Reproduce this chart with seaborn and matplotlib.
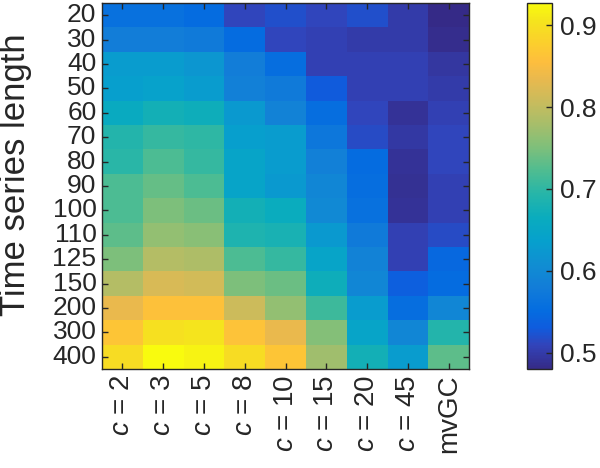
import pandas as pd
import seaborn as sns
import matplotlib.pyplot as plt
from matplotlib.colors import LinearSegmentedColormap

# Row labels (time series length) and column labels (methods)
lengths = [20, 30, 40, 50, 60, 70, 80, 90, 100, 110, 125, 150, 200, 300, 400]
methods = ['$c$ = 2', '$c$ = 3', '$c$ = 5', '$c$ = 8', '$c$ = 10',
           '$c$ = 15', '$c$ = 20', '$c$ = 45', 'mvGC']

# Values per method, one per time series length (top to bottom)
c2 = [0.56, 0.58, 0.63, 0.635, 0.66, 0.69, 0.695, 0.72, 0.72, 0.73, 0.75, 0.79, 0.835, 0.865, 0.895]
c3 = [0.56, 0.58, 0.63, 0.64, 0.675, 0.705, 0.72, 0.735, 0.75, 0.765, 0.79, 0.82, 0.86, 0.90, 0.927]
c5 = [0.55, 0.575, 0.62, 0.63, 0.67, 0.70, 0.705, 0.72, 0.74, 0.758, 0.785, 0.815, 0.86, 0.905, 0.92]
c8 = [0.51, 0.55, 0.58, 0.585, 0.625, 0.635, 0.645, 0.645, 0.675, 0.685, 0.72, 0.75, 0.81, 0.862, 0.895]
c10 = [0.52, 0.51, 0.555, 0.575, 0.59, 0.63, 0.63, 0.625, 0.665, 0.68, 0.705, 0.74, 0.765, 0.835, 0.865]
c15 = [0.51, 0.505, 0.505, 0.53, 0.555, 0.57, 0.585, 0.595, 0.60, 0.625, 0.645, 0.67, 0.71, 0.755, 0.775]
c20 = [0.52, 0.50, 0.505, 0.505, 0.51, 0.515, 0.55, 0.555, 0.56, 0.575, 0.59, 0.595, 0.63, 0.645, 0.675]
c45 = [0.50, 0.50, 0.505, 0.505, 0.49, 0.497, 0.49, 0.487, 0.49, 0.505, 0.505, 0.535, 0.555, 0.595, 0.63]
mvgc = [0.48, 0.485, 0.495, 0.50, 0.505, 0.51, 0.51, 0.505, 0.505, 0.515, 0.545, 0.55, 0.595, 0.69, 0.73]

df = pd.DataFrame(dict(zip(methods, [c2, c3, c5, c8, c10, c15, c20, c45, mvgc])), index=lengths)

# parula-like colormap
parula_pts = [
    (0, (0.2081, 0.1663, 0.5292)), (4, (0.1959, 0.2645, 0.7279)),
    (7, (0.0591, 0.3598, 0.8683)), (10, (0.0165, 0.4266, 0.8786)),
    (14, (0.0723, 0.4887, 0.8467)), (18, (0.0641, 0.5570, 0.8240)),
    (22, (0.0239, 0.6287, 0.8038)), (26, (0.0384, 0.6743, 0.7436)),
    (30, (0.1453, 0.7098, 0.6646)), (34, (0.3022, 0.7376, 0.5712)),
    (38, (0.4871, 0.7491, 0.4840)), (42, (0.6473, 0.7456, 0.4188)),
    (46, (0.7858, 0.7356, 0.3633)), (50, (0.9139, 0.7258, 0.3063)),
    (53, (0.9938, 0.7455, 0.2403)), (56, (0.9880, 0.8066, 0.1794)),
    (60, (0.9589, 0.8949, 0.1132)), (63, (0.9763, 0.9831, 0.0538)),
]
parula = LinearSegmentedColormap.from_list('parula', [(i / 63, c) for i, c in parula_pts])

plt.rcParams['font.family'] = ['Liberation Sans', 'DejaVu Sans']
plt.rcParams['mathtext.fontset'] = 'custom'
plt.rcParams['mathtext.it'] = 'Liberation Sans:italic'
dark = (0.15, 0.15, 0.15)

fig = plt.figure(figsize=(6, 4.68), dpi=100)
ax = fig.add_axes([0.170, 0.2115, 0.612, 0.782])
cax = fig.add_axes([0.878, 0.2115, 0.042, 0.782])

sns.heatmap(df, cmap=parula, vmin=0.48, vmax=0.927, ax=ax, cbar_ax=cax,
            cbar_kws={'ticks': [0.5, 0.6, 0.7, 0.8, 0.9]})

for s in ax.spines.values():
    s.set_visible(True)
    s.set_color(dark)
    s.set_linewidth(1.0)

ax.set_yticklabels([str(v) for v in lengths], rotation=0, fontsize=19, color=dark)
ax.set_xticklabels(methods, rotation=90, fontsize=20, color=dark)
ax.tick_params(direction='in', length=4, width=1, color=dark,
               top=True, right=True, pad=4)
ax.set_xlabel('')
ax.set_ylabel('Time series length', fontsize=25, color=dark)
ax.yaxis.set_label_coords(-0.19, 0.53)

cax.tick_params(direction='in', length=4, width=1, color=dark, labelsize=19,
                labelcolor=dark, pad=6)
cax.set_yticklabels(['0.5', '0.6', '0.7', '0.8', '0.9'])
cbar = ax.collections[0].colorbar
cbar.outline.set_edgecolor(dark)
cbar.outline.set_linewidth(1.0)

plt.savefig('out.png', dpi=100)
